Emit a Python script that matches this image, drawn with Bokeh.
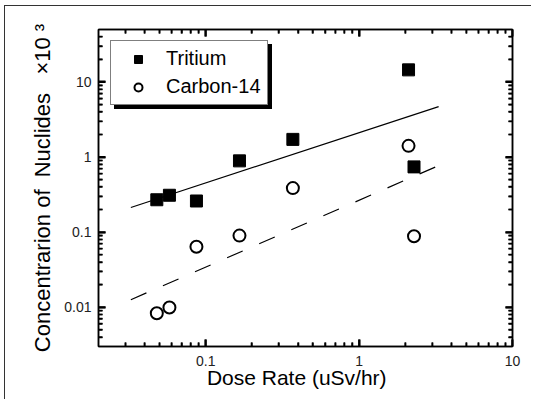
import math
from bokeh.plotting import figure
from bokeh.models import (LogAxis, FixedTicker, CustomJSTickFormatter, Legend,
                          LegendItem)
from bokeh.embed import file_html
from bokeh.resources import INLINE

# ---- data ----
dose = [0.048, 0.058, 0.087, 0.166, 0.37, 2.1, 2.28]
tritium = [0.27, 0.31, 0.26, 0.89, 1.72, 14.5, 0.74]
carbon14 = [0.0083, 0.0099, 0.064, 0.09, 0.386, 1.41, 0.088]
fit_dose = [0.0325, 3.3]
fit_tritium = [0.213, 4.7]
fit_carbon14 = [0.0126, 0.77]
x_major = [0.1, 1, 10]
y_major = [0.01, 0.1, 1, 10]
x_decades = [-2, -1, 0, 1]
y_decades = [-3, -2, -1, 0, 1]
mantissas = [2, 3, 4, 5, 6, 7, 8, 9]
X_START, X_END = 0.02, 10
Y_START, Y_END = 0.003, 50

FONT = "Liberation Sans"
W, H = 527, 394
BL, BR, BT, BB = 93, 20, 23, 54

p = figure(width=W, height=H, x_axis_type="log", y_axis_type="log",
           x_range=(X_START, X_END), y_range=(Y_START, Y_END),
           output_backend="svg", toolbar_location=None,
           min_border_left=BL, min_border_right=BR, min_border_top=BT,
           min_border_bottom=BB)
p.styles = {"margin-left": "4px", "margin-top": "5px",
            "border-top": "1px solid #333", "border-left": "1px solid #333"}
p.background_fill_alpha = 0
p.border_fill_color = "white"
p.outline_line_color = "black"
p.outline_line_width = 1.5
p.grid.visible = False

x_minor = [m * 10.0 ** e for e in x_decades for m in mantissas
           if X_START < m * 10.0 ** e < X_END]
y_minor = [m * 10.0 ** e for e in y_decades for m in mantissas
           if Y_START < m * 10.0 ** e < Y_END]
fmt = CustomJSTickFormatter(code="return String(tick);")

def style_axis(ax, ticks, minor, labels=True):
    ax.ticker = FixedTicker(ticks=ticks, minor_ticks=minor)
    ax.formatter = fmt
    ax.major_tick_in = 7
    ax.major_tick_out = 0
    ax.minor_tick_in = 4
    ax.minor_tick_out = 0
    ax.major_tick_line_color = "black"
    ax.minor_tick_line_color = "black"
    ax.major_tick_line_width = 2
    ax.minor_tick_line_width = 1.6
    ax.axis_line_width = 1.5
    ax.axis_line_color = "black"
    ax.major_label_text_font = FONT
    ax.major_label_text_font_size = "14px"
    ax.major_label_text_color = "#222" if labels else None
    ax.axis_label_text_font = FONT
    ax.axis_label_text_font_style = "normal"
    ax.axis_label_text_font_size = "22px"
    ax.axis_label_text_color = "black"

style_axis(p.xaxis[0], x_major, x_minor)
style_axis(p.yaxis[0], y_major, y_minor)
p.xaxis[0].axis_label = "Dose Rate (uSv/hr)\u00a0\u00a0\u00a0"
p.xaxis[0].axis_label_text_font_size = "21px"
p.xaxis[0].axis_label_standoff = -3
p.xaxis[0].major_label_standoff = 9
p.yaxis[0].axis_label = "Concentrarion of\u00a0 Nuclides\u00a0\u00a0 \u00d710\u00a0\u00b3"
p.yaxis[0].axis_label_standoff = 6
p.yaxis[0].major_label_standoff = 7

# frame sides with tick marks only (labels not drawn)
top_ax = LogAxis()
style_axis(top_ax, x_major, x_minor, labels=False)
p.add_layout(top_ax, "above")
right_ax = LogAxis()
style_axis(right_ax, y_major, y_minor, labels=False)
p.add_layout(right_ax, "right")

# inward tick marks also drawn as short segments (pixel length -> log factor)
px_x = (W - BL - BR) / math.log10(X_END / X_START)
px_y = (H - BT - BB) / math.log10(Y_END / Y_START)

def ticks_x(vals, length, lw):
    f = 10 ** (length / px_y)
    e = 10 ** (0.5 / px_y)
    p.segment(vals, [Y_START * e] * len(vals), vals, [Y_START * f] * len(vals),
              line_color="black", line_width=lw)
    p.segment(vals, [Y_END / e] * len(vals), vals, [Y_END / f] * len(vals),
              line_color="black", line_width=lw)

def ticks_y(vals, length, lw):
    f = 10 ** (length / px_x)
    e = 10 ** (0.5 / px_x)
    p.segment([X_START * e] * len(vals), vals, [X_START * f] * len(vals), vals,
              line_color="black", line_width=lw)
    p.segment([X_END / e] * len(vals), vals, [X_END / f] * len(vals), vals,
              line_color="black", line_width=lw)

ticks_x(x_major, 7, 2)
ticks_x(x_minor, 4, 1.6)
ticks_y(y_major, 7, 2)
ticks_y(y_minor, 4, 1.6)

p.line(fit_dose, fit_tritium, line_color="black", line_width=1.2)
p.line(fit_dose, fit_carbon14, line_color="black", line_width=1.2,
       line_dash="17 18")

r_t = p.scatter(dose, tritium, marker="square", size=12, fill_color="black",
                line_color="black")
r_c = p.scatter(dose, carbon14, marker="circle", size=12, fill_color=None,
                line_color="black", line_width=2)

def make_legend(dx, dy, bg, labels):
    lg = Legend(items=[LegendItem(label=labels[0], renderers=[r_t]),
                       LegendItem(label=labels[1], renderers=[r_c])],
                location=(12 + dx, 241 + dy))
    lg.background_fill_color = bg
    lg.background_fill_alpha = 1
    lg.border_line_color = "black"
    lg.border_line_width = 1.2
    lg.padding = 6
    lg.margin = 0
    lg.spacing = 5
    lg.glyph_width = 42
    lg.glyph_height = 20
    lg.label_height = 20
    lg.label_width = 95
    lg.label_standoff = 7
    lg.label_text_font = FONT
    lg.label_text_font_size = "20px"
    lg.label_text_color = "black"
    return lg

# drop shadow of the legend box, then the legend itself
p.add_layout(make_legend(4, -4, "black", ["\u00a0", "\u00a0"]), "center")
p.add_layout(make_legend(0, 0, "white", ["Tritium", "Carbon-14"]), "center")

open("out.html", "w").write(file_html(p, INLINE))
